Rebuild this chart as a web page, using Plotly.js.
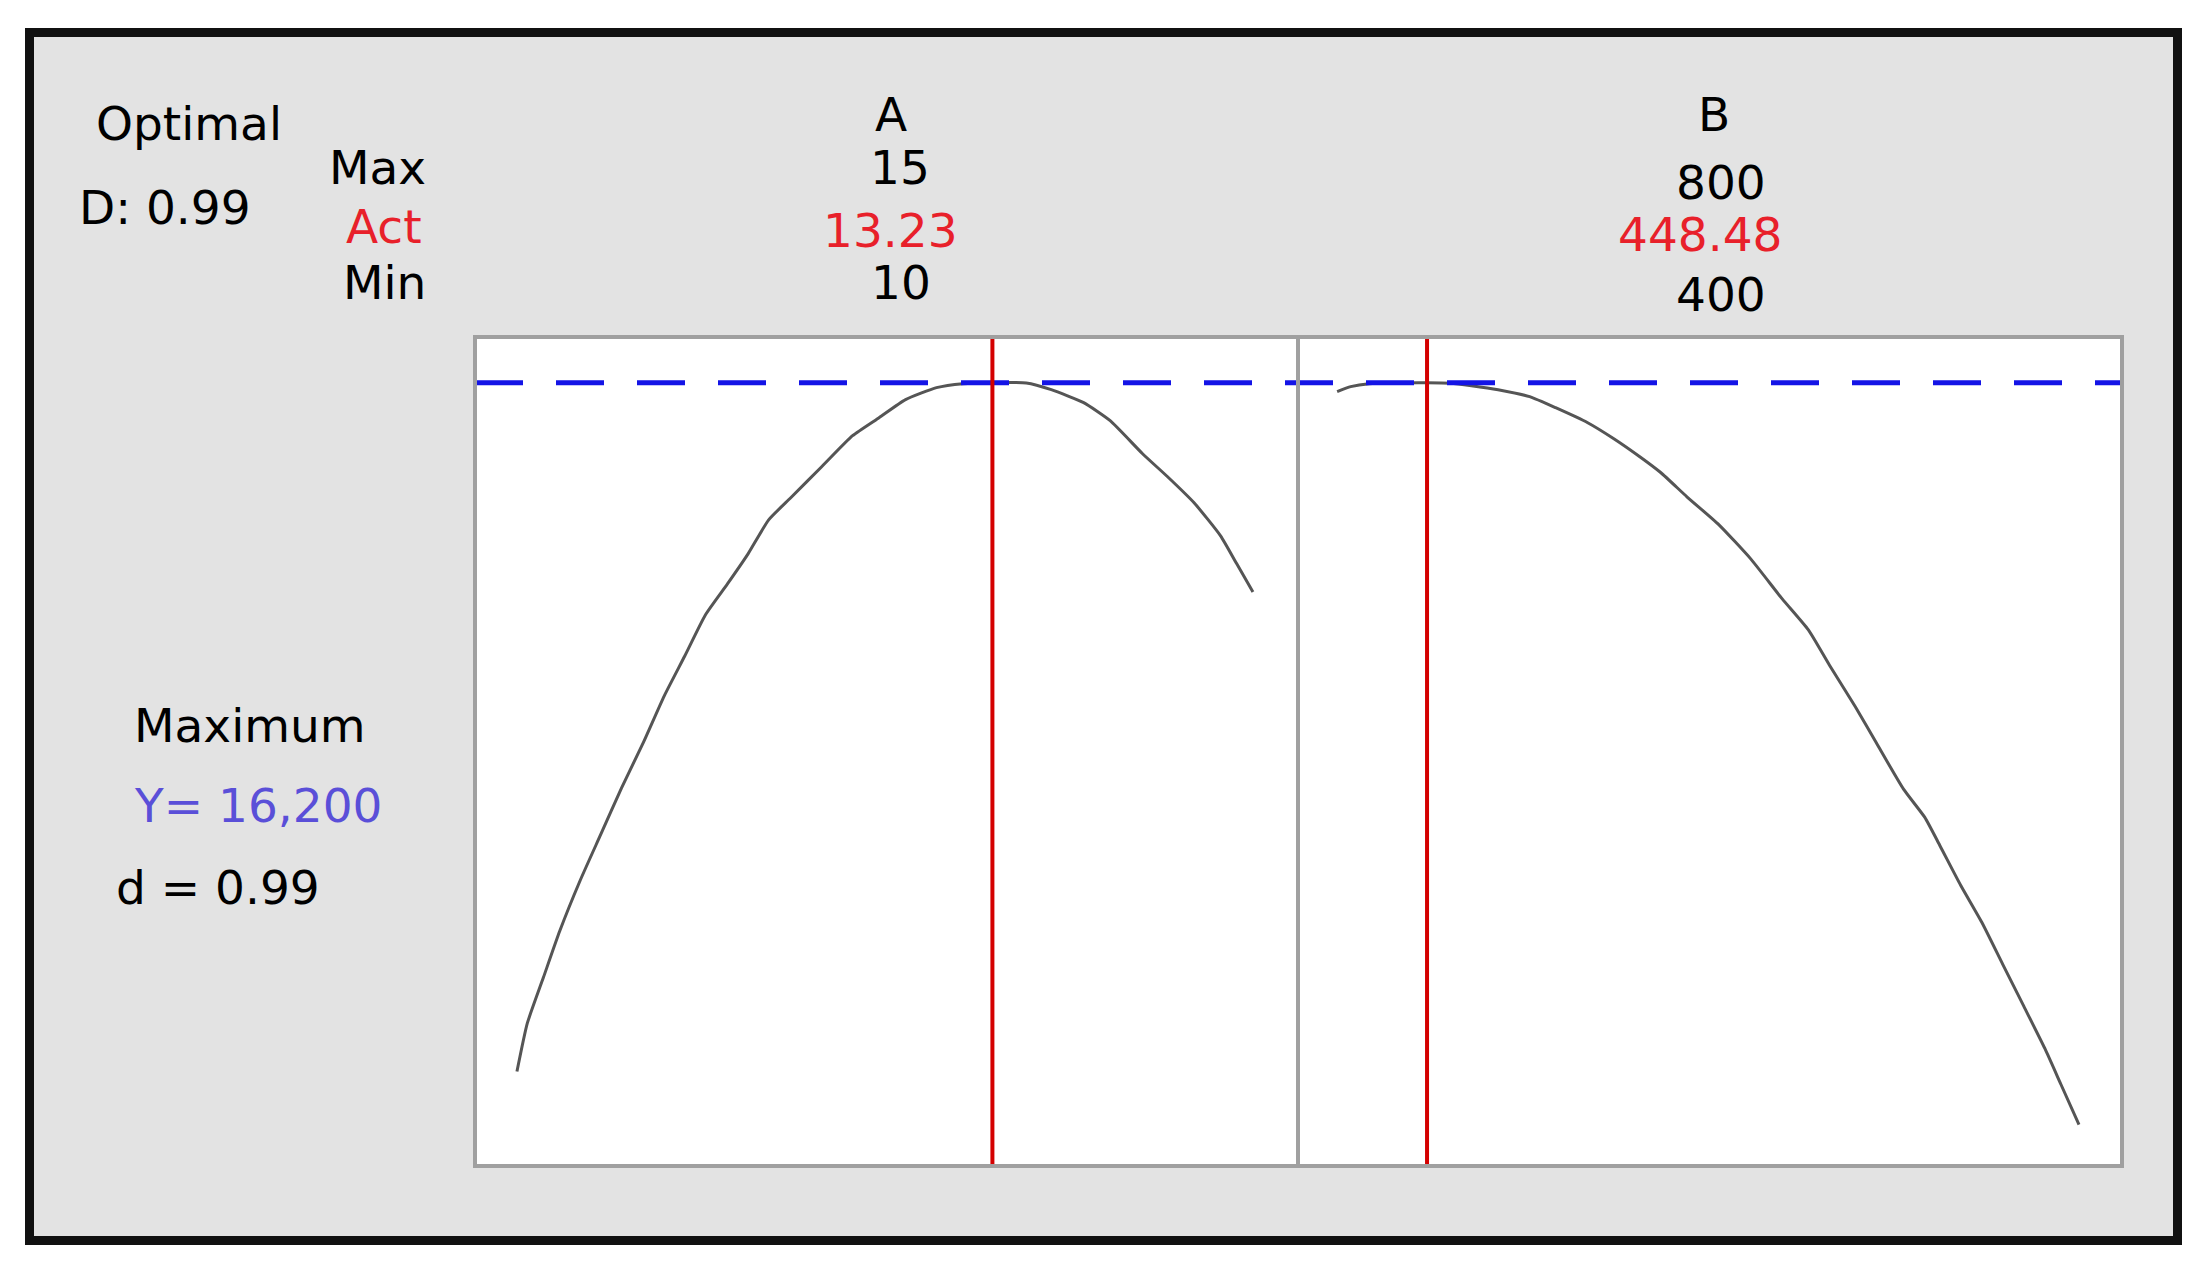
<!DOCTYPE html>
<html>
<head>
<meta charset="utf-8">
<script src="https://cdn.plot.ly/plotly-3.0.1.min.js"></script>
<style>
  html, body { margin: 0; padding: 0; background: #fff; }
  #myPlot { width: 2208px; height: 1272px; }
</style>
</head>
<body>
<div id="myPlot"></div>
<script>
// factor A (low 10, high 15) and factor B (low 400, high 800)
const aLow = 10, aHigh = 15, aAct = 13.23;
const bLow = 400, bHigh = 800, bAct = 448.48;
const yOpt = 16.2;   // Y= 16,200
const dOpt = 0.99;

// response curve vs A
const aX = [10.0, 10.07, 10.18, 10.29, 10.43, 10.57, 10.71, 10.86, 11.0, 11.14, 11.28, 11.43, 11.57, 11.71, 11.86, 12.07, 12.28, 12.46, 12.64, 12.85, 13.03, 13.23, 13.46, 13.63, 13.85, 14.03, 14.25, 14.42, 14.6, 14.78, 14.89, 15.0];
const aY = [9.32, 9.8, 10.26, 10.72, 11.23, 11.69, 12.15, 12.61, 13.07, 13.47, 13.88, 14.19, 14.49, 14.83, 15.05, 15.36, 15.67, 15.85, 16.03, 16.15, 16.19, 16.2, 16.197, 16.13, 16.0, 15.82, 15.49, 15.26, 15.0, 14.67, 14.39, 14.11];

// response curve vs B
const bX = [400, 407.3, 417.3, 448.48, 461.1, 472.4, 486.8, 503.8, 517.8, 535.1, 549.2, 563.2, 574.6, 588.6, 605.9, 623.0, 640.0, 654.1, 665.4, 679.5, 690.8, 705.4, 716.8, 724.9, 736.2, 747.6, 758.9, 770.3, 781.6, 790.3, 800];
const bY = [16.11, 16.16, 16.19, 16.2, 16.195, 16.17, 16.13, 16.06, 15.95, 15.8, 15.64, 15.46, 15.3, 15.06, 14.78, 14.44, 14.04, 13.73, 13.38, 12.96, 12.6, 12.14, 11.86, 11.58, 11.18, 10.81, 10.39, 9.97, 9.55, 9.19, 8.79];

const W = 2208, H = 1272;
function px(x){ return x / W; }
function py(y){ return 1 - y / H; }

const fnt = "DejaVu Sans";
const fs = 47;
const red = "#e8202a";

const data = [
  {x: aX, y: aY, xaxis: "x", yaxis: "y", mode: "lines", line: {color: "#555555", width: 3, shape: "spline", smoothing: 0.5}, hoverinfo: "skip"},
  {x: bX, y: bY, xaxis: "x2", yaxis: "y", mode: "lines", line: {color: "#555555", width: 3, shape: "spline", smoothing: 0.5}, hoverinfo: "skip"}
];

const plotL = 475, plotR = 2122, plotT = 337, plotB = 1166, split = 1298;

function txt(s, x, y, color, anchor){
  return {text: s, x: px(x), y: py(y), xref: "paper", yref: "paper", showarrow: false,
    xanchor: anchor || "center", yanchor: "middle", font: {family: fnt, size: fs, color: color || "#000"}};
}

const annotations = [
  txt("Optimal", 189, 124),
  txt("D: 0.99", 165, 208),
  txt("Max", 428, 168, "#000", "right"),
  txt("Act", 424, 227, red, "right"),
  txt("Min", 428, 282, "#000", "right"),
  txt("A", 891, 114),
  txt(String(aHigh), 900, 168),
  txt(aAct.toFixed(2), 890, 231, red),
  txt(String(aLow), 901, 282),
  txt("B", 1714, 114),
  txt(String(bHigh), 1721, 182),
  txt(bAct.toFixed(2), 1700, 235, red),
  txt(String(bLow), 1721, 295),
  txt("Maximum", 250, 725),
  txt("Y= 16,200", 258, 805, "#5a4fd8"),
  txt("d = " + dOpt.toFixed(2), 218, 887)
];

const shapes = [
  // grey panel with black frame
  {type: "rect", xref: "paper", yref: "paper", layer: "below",
   x0: px(29.5), x1: px(2177.5), y0: py(1240.5), y1: py(32.5),
   fillcolor: "#e3e3e3", line: {color: "#111111", width: 9}},
  // white plot area
  {type: "rect", xref: "paper", yref: "paper", layer: "below",
   x0: px(plotL), x1: px(plotR), y0: py(plotB), y1: py(plotT),
   fillcolor: "#ffffff", line: {width: 0}},
  // optimum response line
  {type: "line", xref: "paper", yref: "y", x0: px(plotL), x1: px(plotR), y0: yOpt, y1: yOpt,
   line: {color: "#1414e6", width: 5, dash: "48px,33px"}},
  // current settings
  {type: "line", xref: "x", yref: "paper", x0: aAct, x1: aAct, y0: py(plotB), y1: py(plotT),
   line: {color: "#d40000", width: 4}},
  {type: "line", xref: "x2", yref: "paper", x0: bAct, x1: bAct, y0: py(plotB), y1: py(plotT),
   line: {color: "#d40000", width: 4}},
  // box and divider
  {type: "rect", xref: "paper", yref: "paper", x0: px(plotL), x1: px(plotR), y0: py(plotB), y1: py(plotT),
   line: {color: "#a0a0a0", width: 4}},
  {type: "line", xref: "paper", yref: "paper", x0: px(split), x1: px(split), y0: py(plotB), y1: py(plotT),
   line: {color: "#a0a0a0", width: 4}}
];

const ax = {showgrid: false, zeroline: false, showticklabels: false, ticks: "", showline: false, fixedrange: true};

const layout = {
  width: W, height: H,
  margin: {l: 0, r: 0, t: 0, b: 0},
  paper_bgcolor: "#ffffff",
  plot_bgcolor: "rgba(0,0,0,0)",
  showlegend: false,
  xaxis: Object.assign({}, ax, {domain: [px(plotL), px(split)], range: [9.715, 15.306], anchor: "y"}),
  xaxis2: Object.assign({}, ax, {domain: [px(split), px(plotR)], range: [378.9, 823.2], anchor: "y"}),
  yaxis: Object.assign({}, ax, {domain: [py(plotB), py(plotT)], range: [8.376, 16.656], anchor: "x"}),
  annotations: annotations,
  shapes: shapes
};

Plotly.newPlot("myPlot", data, layout, {displayModeBar: false, staticPlot: true});
</script>
</body>
</html>
